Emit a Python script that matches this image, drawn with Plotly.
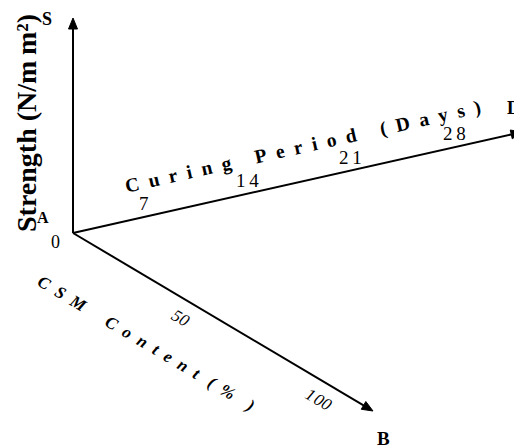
import math
import plotly.graph_objects as go

# ---- data (axis tick values / labels) ----
days_ticks = [7, 14, 21, 28]
days_labels = ["7", "1\u20094", "2\u20091", "2\u20098"]
csm_ticks = [50, 100]
csm_labels = ["50", "1\u200a00"]
origin_label = "0"
strength_title = "Strength (N/m\u2009m\u00b2)"
NB = "\u00a0"


def spaced(words, g=2, w=5):
    return (NB * w).join((NB * g).join(list(wd)) for wd in words)


curing_title = spaced(["Curing", "Period", "(Days)"], 2, 5)
csm_title = (NB * 2).join("CSM") + NB * 6 + (NB * 2).join("Content") + NB * 3 + "(" + NB * 2 + "%" + NB * 4 + ")"

# ---- layout geometry (page-pixel coordinates, y downward) ----
W, H = 522, 448
PAGE_MARGIN = 8  # default body margin of the html page
O = (73.0, 233.0)
axes_geo = {
    "S": {"vec": (0.0, -215.0)},
    "D": {"vec": (449.0, -101.0)},
    "B": {"vec": (300.0, 178.0)},
}
for k, g in axes_geo.items():
    vx, vy = g["vec"]
    L = math.hypot(vx, vy)
    g["L"] = L
    g["u"] = (vx / L, vy / L)
    g["ang"] = math.degrees(math.atan2(vy, vx))

# linear scales: value -> distance along the axis
D_scale = dict(a=-30.0, b=15.13, perp=13.0)
B_scale = dict(a=-22.7, b=3.186, perp=18.0)


def along(axis, dist, perp=0.0, side=1):
    ux, uy = axes_geo[axis]["u"]
    nx, ny = (uy, -ux) if side == 1 else (-uy, ux)
    return (O[0] + ux * dist + nx * perp, O[1] + uy * dist + ny * perp)


fig = go.Figure()
shapes = []
annotations = []
SERIF = "Liberation Serif"

# axis lines + arrowheads
for k, g in axes_geo.items():
    L = g["L"]
    tip = along(k, L)
    base = along(k, L - 11)
    fig.add_trace(go.Scatter(x=[O[0], base[0]], y=[O[1], base[1]], mode="lines",
                             line=dict(color="black", width=2), hoverinfo="skip",
                             showlegend=False))
    ux, uy = g["u"]
    nx, ny = uy, -ux
    p1 = (base[0] + nx * 4.5, base[1] + ny * 4.5)
    p2 = (base[0] - nx * 4.5, base[1] - ny * 4.5)
    shapes.append(dict(type="path", xref="x", yref="y",
                       path=f"M{tip[0]},{tip[1]} L{p1[0]},{p1[1]} L{p2[0]},{p2[1]} Z",
                       fillcolor="black", line=dict(color="black", width=1)))

# Curing period ticks
dang = axes_geo["D"]["ang"]
for v, lab in zip(days_ticks, days_labels):
    p = along("D", D_scale["a"] + D_scale["b"] * v, D_scale["perp"], side=1)
    annotations.append(dict(x=p[0], y=p[1], text=lab, showarrow=False,
                            font=dict(family=SERIF, size=19, color="black"),
                            xanchor="center", yanchor="middle"))

# CSM ticks
bang = axes_geo["B"]["ang"]
for v, lab in zip(csm_ticks, csm_labels):
    p = along("B", B_scale["a"] + B_scale["b"] * v, B_scale["perp"], side=-1)
    annotations.append(dict(x=p[0], y=p[1], text=f"<i>{lab}</i>", showarrow=False,
                            textangle=bang,
                            font=dict(family=SERIF, size=17, color="black"),
                            xanchor="center", yanchor="middle"))

# axis titles
p = along("D", 243.0, 33.4, side=1)
annotations.append(dict(x=p[0], y=p[1], text=f"<b>{curing_title}</b>", showarrow=False,
                        textangle=dang, font=dict(family=SERIF, size=19.5, color="black"),
                        xanchor="center", yanchor="middle"))
p = along("B", 119.0, 57.4, side=-1)
annotations.append(dict(x=p[0], y=p[1], text=f"<b><i>{csm_title}</i></b>", showarrow=False,
                        textangle=bang, font=dict(family=SERIF, size=17, color="black"),
                        xanchor="center", yanchor="middle"))
annotations.append(dict(x=26, y=123, text=f"<b>{strength_title}</b>", showarrow=False,
                        textangle=-90, font=dict(family=SERIF, size=28, color="black"),
                        xanchor="center", yanchor="middle"))

# point labels
labels_pts = [
    ("S", along("S", axes_geo["S"]["L"]), (-26, 1), 18, True),
    ("D", along("D", axes_geo["D"]["L"]), (-9, -24), 18, True),
    ("B", along("B", axes_geo["B"]["L"]), (10, 27), 19, True),
    ("A", O, (-30, -16), 16, True),
    (origin_label, O, (-18, 9), 18, False),
]
for t, base, off, sz, bold in labels_pts:
    annotations.append(dict(x=base[0] + off[0], y=base[1] + off[1],
                            text=f"<b>{t}</b>" if bold else t, showarrow=False,
                            font=dict(family=SERIF, size=sz, color="black"),
                            xanchor="center", yanchor="middle"))

fig.update_layout(
    width=W - PAGE_MARGIN, height=H - PAGE_MARGIN, margin=dict(l=0, r=0, t=0, b=0),
    paper_bgcolor="white", plot_bgcolor="white",
    xaxis=dict(range=[PAGE_MARGIN, W], visible=False, fixedrange=True),
    yaxis=dict(range=[H, PAGE_MARGIN], visible=False, fixedrange=True),
    shapes=shapes, annotations=annotations, showlegend=False,
)
fig.write_html("out.html")
